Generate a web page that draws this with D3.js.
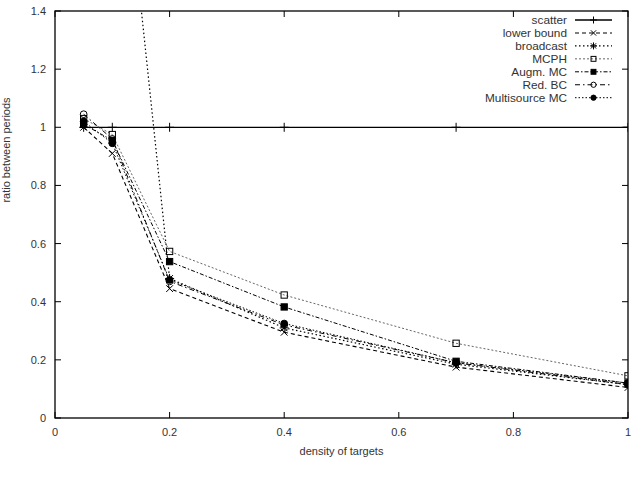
<!DOCTYPE html>
<html>
<head>
<meta charset="utf-8">
<script src="https://cdnjs.cloudflare.com/ajax/libs/d3/7.8.5/d3.min.js"></script>
<style>
  body { margin: 0; background: #fff; }
  text { font-family: "Liberation Sans", Arial, sans-serif; fill: #333; }
</style>
</head>
<body>
<div class="main"></div>
<script>
// density of targets
const densities = [0.05, 0.1, 0.2, 0.4, 0.7, 1.0];

const scatter       = [1, 1, 1, 1, 1, 1];
const lowerBound    = [1.0, 0.91, 0.445, 0.295, 0.175, 0.105];
const broadcast     = [3.6, 2.35, 0.48, 0.31, 0.185, 0.115];
const mcph          = [1.03, 0.975, 0.573, 0.423, 0.257, 0.145];
const augmMC        = [1.01, 0.955, 0.538, 0.382, 0.195, 0.12];
const redBC         = [1.045, 0.96, 0.47, 0.32, 0.19, 0.115];
const multisourceMC = [1.02, 0.945, 0.475, 0.325, 0.19, 0.12];

const xTicks = [0, 0.2, 0.4, 0.6, 0.8, 1];
const yTicks = [0, 0.2, 0.4, 0.6, 0.8, 1, 1.2, 1.4];

const series = [
    { name: "scatter", values: scatter, dash: null, marker: "plus", color: "#000", w: 1.3 },
    { name: "lower bound", values: lowerBound, dash: "4,3", marker: "cross", color: "#000", w: 1.1 },
    { name: "broadcast", values: broadcast, dash: "1.5,2.5", marker: "star", color: "#000", w: 1.2 },
    { name: "MCPH", values: mcph, dash: "2,2", marker: "square", color: "#555", w: 0.9 },
    { name: "Augm. MC", values: augmMC, dash: "4,2,1.5,2", marker: "fsquare", color: "#000", w: 1.0 },
    { name: "Red. BC", values: redBC, dash: "5,3,1.5,3", marker: "circle", color: "#000", w: 1.0 },
    { name: "Multisource MC", values: multisourceMC, dash: "1.5,2", marker: "fcircle", color: "#000", w: 1.0 }
];

let width = 636;
let height = 485;
let margin = { left: 55, right: 8, top: 11, bottom: 67 };

let x = d3.scaleLinear().domain([0, 1]).range([margin.left, width - margin.right]);
let y = d3.scaleLinear().domain([0, 1.4]).range([height - margin.bottom, margin.top]);

let svg = d3.select(".main").append("svg")
    .attr("width", width)
    .attr("height", height);

svg.append("defs").append("clipPath")
    .attr("id", "plot-clip")
    .append("rect")
    .attr("x", x(0)).attr("y", y(1.4))
    .attr("width", x(1) - x(0)).attr("height", y(0) - y(1.4));

// ticks, inward and mirrored like gnuplot
let tickLen = 6;
let ticks = svg.append("g").attr("stroke", "#000").attr("stroke-width", 1);
xTicks.forEach(t => {
    ticks.append("line").attr("x1", x(t)).attr("x2", x(t)).attr("y1", y(0)).attr("y2", y(0) - tickLen);
    ticks.append("line").attr("x1", x(t)).attr("x2", x(t)).attr("y1", y(1.4)).attr("y2", y(1.4) + tickLen);
});
yTicks.forEach(t => {
    ticks.append("line").attr("x1", x(0)).attr("x2", x(0) + tickLen).attr("y1", y(t)).attr("y2", y(t));
    ticks.append("line").attr("x1", x(1)).attr("x2", x(1) - tickLen).attr("y1", y(t)).attr("y2", y(t));
});

// tick labels
svg.append("g").selectAll("text")
    .data(xTicks)
    .enter().append("text")
    .attr("x", d => x(d))
    .attr("y", y(0) + 18)
    .attr("text-anchor", "middle")
    .attr("font-size", 11)
    .text(d => d3.format("")(d));

svg.append("g").selectAll("text")
    .data(yTicks)
    .enter().append("text")
    .attr("x", x(0) - 9)
    .attr("y", d => y(d) + 4)
    .attr("text-anchor", "end")
    .attr("font-size", 11)
    .text(d => d3.format("")(d));

// axis titles
svg.append("text")
    .attr("x", (x(0) + x(1)) / 2)
    .attr("y", 455)
    .attr("text-anchor", "middle")
    .attr("font-size", 11)
    .text("density of targets");

svg.append("text")
    .attr("transform", `translate(10, 150) rotate(-90)`)
    .attr("text-anchor", "middle")
    .attr("font-size", 11)
    .text("ratio between periods");

// markers
function marker(sel, type, cx, cy, s) {
    let g = sel.append("g").attr("transform", `translate(${cx},${cy})`)
        .attr("stroke", "#000").attr("stroke-width", 1).attr("fill", "none");
    if (type === "plus" || type === "star") {
        g.append("line").attr("x1", -s).attr("x2", s).attr("y1", 0).attr("y2", 0);
        g.append("line").attr("x1", 0).attr("x2", 0).attr("y1", -s).attr("y2", s);
    }
    if (type === "cross" || type === "star") {
        let k = s * 0.75;
        g.append("line").attr("x1", -k).attr("x2", k).attr("y1", -k).attr("y2", k);
        g.append("line").attr("x1", -k).attr("x2", k).attr("y1", k).attr("y2", -k);
    }
    if (type === "square" || type === "fsquare") {
        let k = s * 0.7;
        g.append("rect").attr("x", -k).attr("y", -k).attr("width", 2 * k).attr("height", 2 * k)
            .attr("fill", type === "fsquare" ? "#000" : "none");
    }
    if (type === "circle" || type === "fcircle") {
        g.append("circle").attr("r", s * 0.75)
            .attr("fill", type === "fcircle" ? "#000" : "none");
    }
}

let plot = svg.append("g").attr("clip-path", "url(#plot-clip)");
let line = d3.line().x((d, i) => x(densities[i])).y(d => y(d));

series.forEach(s => {
    plot.append("path")
        .datum(s.values)
        .attr("d", line)
        .attr("fill", "none")
        .attr("stroke", s.color)
        .attr("stroke-width", s.w)
        .attr("stroke-dasharray", s.dash);
    s.values.forEach((v, i) => {
        marker(plot, s.marker, x(densities[i]), y(v), 4.5);
    });
});

// legend
let legend = svg.append("g");
series.forEach((s, i) => {
    let ly = 20 + i * 12.95;
    legend.append("text")
        .attr("x", 567)
        .attr("y", ly + 4)
        .attr("text-anchor", "end")
        .attr("font-size", 11.8)
        .text(s.name);
    legend.append("line")
        .attr("x1", 575).attr("x2", 612)
        .attr("y1", ly).attr("y2", ly)
        .attr("stroke", s.color)
        .attr("stroke-width", s.w)
        .attr("stroke-dasharray", s.dash);
    marker(legend, s.marker, 593.5, ly, 3.5);
});

// frame
svg.append("rect")
    .attr("x", x(0)).attr("y", y(1.4))
    .attr("width", x(1) - x(0)).attr("height", y(0) - y(1.4))
    .attr("fill", "none")
    .attr("stroke", "#000")
    .attr("stroke-width", 1.3);
</script>
</body>
</html>
